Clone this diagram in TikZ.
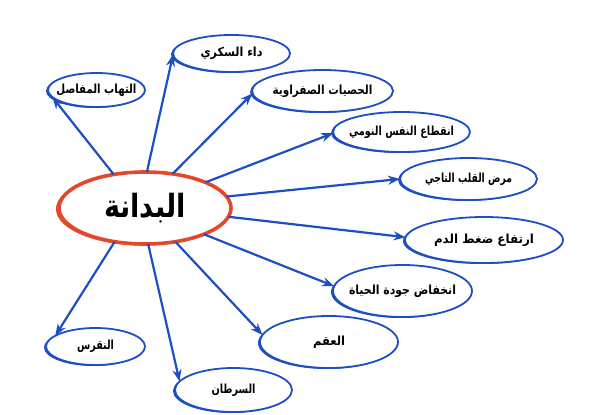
\documentclass[tikz,border=0pt]{standalone}
\usepackage{fontspec}
\usepackage{graphicx}
\usetikzlibrary{shapes.geometric,arrows.meta,calc}
\newfontfamily\arabicfont[Script=Arabic]{DejaVu Sans}
\TeXXeTstate=1
\definecolor{bl}{HTML}{1C4EC4}
\definecolor{rd}{HTML}{E2482C}
\newcommand\ar[2]{\makebox[0pt]{\resizebox{#1pt}{\height}{\arabicfont\bfseries #2}}}
\tikzset{
  bub/.style={ellipse, draw=bl, line width=1.8pt, fill=white, inner sep=0pt, outer sep=0pt, font=\fontsize{12.5}{14}\selectfont},
  hub/.style={ellipse, draw=rd, line width=3.6pt, fill=white, inner sep=0pt, outer sep=0pt, font=\fontsize{32}{36}\selectfont},
  link/.style={draw=bl, line width=2.2pt, -{Stealth[length=12pt,width=9pt]}},
}
\begin{document}
\begin{tikzpicture}[x=1pt,y=-1pt]
\useasboundingbox (0,0) rectangle (600,415);
% brush shading
\fill[rd] (143.5,209) ellipse [x radius=87.5pt, y radius=36.5pt];
\fill[bl] (94.5,91) ellipse [x radius=48.5pt, y radius=17pt];
\fill[bl] (229.5,54.5) ellipse [x radius=58.5pt, y radius=18.5pt];
\fill[bl] (320.5,92) ellipse [x radius=70.5pt, y radius=21pt];
\fill[bl] (399.5,133) ellipse [x radius=68.5pt, y radius=20pt];
\fill[bl] (466.5,180) ellipse [x radius=68.5pt, y radius=21pt];
\fill[bl] (482,241) ellipse [x radius=79pt, y radius=23pt];
\fill[bl] (400.5,292) ellipse [x radius=69.5pt, y radius=26pt];
\fill[bl] (327,343) ellipse [x radius=69pt, y radius=26pt];
\fill[bl] (231.5,391) ellipse [x radius=58.5pt, y radius=22pt];
\fill[bl] (93.5,347.5) ellipse [x radius=49.5pt, y radius=18.5pt];
% nodes
\node[hub, minimum width=172pt, minimum height=72pt] (c) at (145,208) {\ar{82}{\beginR البدانة\endR}};
\node[bub, minimum width=97pt, minimum height=34pt] (o1) at (96.5,90) {\ar{80}{\beginR التهاب المفاصل\endR}};
\node[bub, minimum width=117pt, minimum height=37pt] (o2) at (231.5,53.5) {\ar{62}{\beginR داء السكري\endR}};
\node[bub, minimum width=141pt, minimum height=42pt] (o3) at (322.5,91) {\ar{100}{\beginR الحصيات الصفراوية\endR}};
\node[bub, minimum width=137pt, minimum height=40pt] (o4) at (401.5,132) {\ar{105}{\beginR انقطاع النفس النومي\endR}};
\node[bub, minimum width=137pt, minimum height=42pt] (o5) at (468.5,179) {\ar{87}{\beginR مرض القلب التاجي\endR}};
\node[bub, minimum width=158pt, minimum height=46pt] (o6) at (484,240) {\ar{100}{\beginR ارتفاع ضغط الدم\endR}};
\node[bub, minimum width=139pt, minimum height=52pt] (o7) at (402.5,291) {\ar{107}{\beginR انخفاض جودة الحياة\endR}};
\node[bub, minimum width=138pt, minimum height=52pt] (o8) at (329,342) {\ar{32}{\beginR العقم\endR}};
\node[bub, minimum width=117pt, minimum height=44pt] (o9) at (233.5,390) {\ar{44}{\beginR السرطان\endR}};
\node[bub, minimum width=99pt, minimum height=37pt] (o10) at (95.5,346.5) {\ar{37}{\beginR النقرس\endR}};
% links
\draw[link] (c.133) -- (o1.189);
\draw[link] (c.87) -- (o2.181);
\draw[link] (c.51) -- (o3.182);
\draw[link] (c.23) -- (o4.181);
\draw[link] (c.8) -- (o5.180);
\draw[link] (c.-6) -- (o6.178);
\draw[link] (c.-24) -- (o7.176);
\draw[link] (c.-48) -- (o8.174);
\draw[link] (c.-85) -- (o9.171);
\draw[link] (c.-132) -- (o10.165);
\end{tikzpicture}
\end{document}
